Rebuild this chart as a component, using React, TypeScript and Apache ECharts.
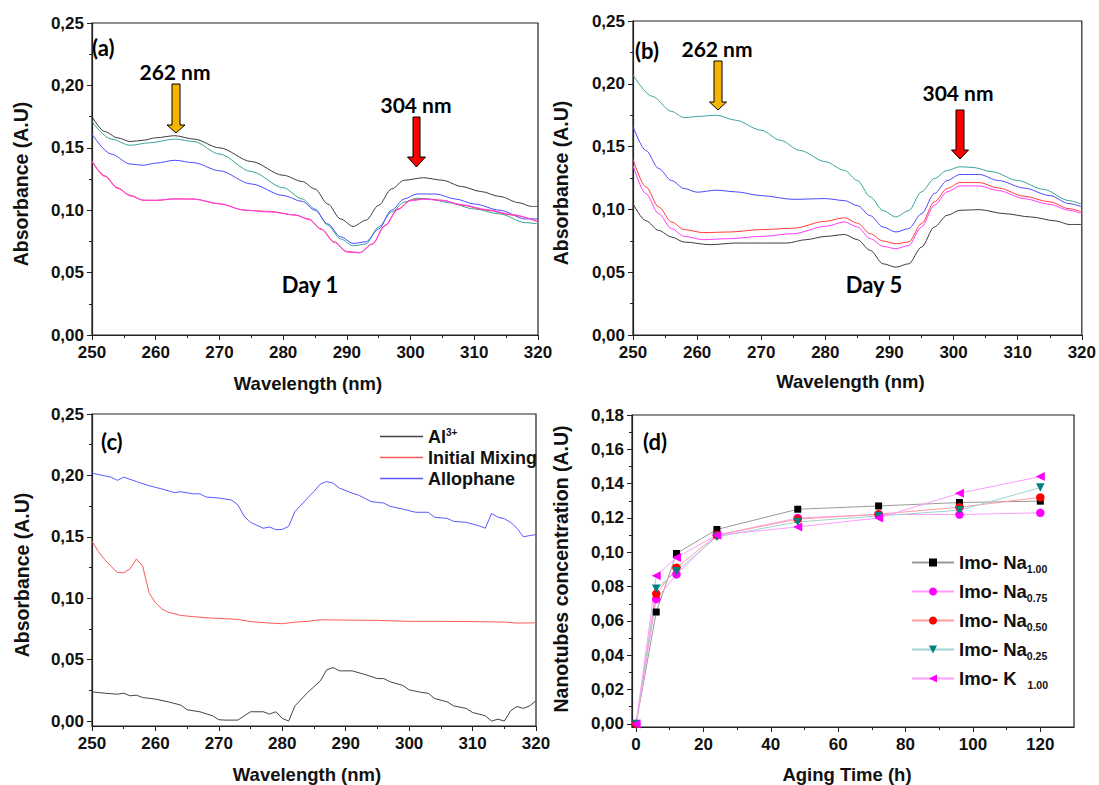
import React, { useEffect, useRef } from 'react';
import * as echarts from 'echarts';

// ---------- Panel (a) Day 1 ----------
const a_black = [[250,.175],[252,.163],[254,.158],[256,.155],[258,.156],[260,.158],[263,.1597],[266,.157],[270,.150],[275,.139],[280,.128],[283,.123],[285,.117],[287,.105],[289,.093],[291,.087],[293,.092],[295,.104],[297,.117],[299,.124],[302,.126],[305,.124],[308,.119],[311,.115],[314,.111],[317,.106],[319,.103],[320,.103]];
const a_teal = [[250,.171],[253,.157],[256,.152],[259,.154],[263,.157],[266,.155],[270,.145],[275,.131],[280,.118],[283,.109],[285,.101],[287,.088],[289,.077],[291,.0715],[293,.073],[295,.0866],[297,.0985],[299,.1065],[301,.1096],[303,.109],[306,.106],[310,.101],[314,.097],[318,.090],[320,.089]];
const a_blue = [[250,.161],[253,.145],[256,.137],[258,.136],[260,.1377],[263,.140],[266,.138],[270,.1316],[275,.121],[280,.1118],[283,.107],[285,.100],[287,.089],[289,.0787],[291,.0734],[293,.0747],[295,.085],[297,.100],[299,.109],[301,.113],[304,.113],[307,.109],[310,.105],[314,.100],[318,.093],[320,.093]];
const a_red = [[250,.1395],[252,.1276],[254,.118],[256,.112],[258,.108],[260,.1078],[263,.109],[266,.109],[270,.105],[274,.100],[278,.099],[282,.096],[284,.093],[286,.085],[288,.0747],[290,.067],[292,.066],[294,.073],[296,.088],[298,.101],[300,.108],[302,.109],[305,.108],[308,.104],[312,.100],[316,.096],[320,.091]];
const a_magenta = [[250,.139],[252,.127],[254,.1175],[256,.1115],[258,.108],[260,.108],[263,.1092],[266,.1088],[270,.1052],[274,.1],[278,.0985],[282,.0962],[284,.0925],[286,.0845],[288,.0742],[290,.0665],[292,.0658],[294,.0727],[296,.0875],[298,.1005],[300,.1075],[302,.1088],[305,.1078],[308,.1045],[312,.1005],[316,.0965],[320,.0905]];

// ---------- Panel (b) Day 5 ----------
const b_teal = [[250,.207],[253,.190],[256,.178],[258,.173],[260,.174],[263,.175],[266,.171],[270,.163],[273,.155],[276,.147],[280,.138],[283,.131],[285,.123],[287,.110],[289,.099],[291,.094],[293,.099],[295,.114],[297,.1246],[299,.131],[301,.134],[303,.1334],[306,.130],[310,.123],[314,.116],[318,.107],[320,.104]];
const b_blue = [[250,.166],[252,.147],[254,.1326],[256,.123],[258,.1166],[260,.1137],[263,.1153],[266,.114],[270,.111],[275,.108],[280,.1086],[283,.107],[285,.103],[287,.095],[289,.086],[291,.082],[293,.0847],[295,.0966],[297,.1126],[299,.123],[301,.1278],[304,.1278],[307,.123],[311,.117],[315,.111],[318,.1046],[320,.102]];
const b_red = [[250,.140],[252,.118],[254,.102],[256,.090],[258,.0839],[261,.0815],[265,.082],[270,.0839],[275,.085],[280,.0905],[283,.0934],[285,.089],[287,.0807],[289,.0748],[291,.0727],[293,.074],[295,.0887],[297,.106],[299,.1166],[301,.1214],[304,.1214],[307,.117],[311,.1105],[315,.106],[318,.1006],[320,.098]];
const b_magenta = [[250,.135],[252,.1126],[254,.0966],[256,.0847],[258,.0785],[261,.0759],[265,.0767],[270,.0785],[275,.0807],[280,.0865],[283,.090],[285,.086],[287,.0767],[289,.0706],[291,.0687],[293,.0713],[295,.086],[297,.1033],[299,.114],[301,.1187],[304,.1187],[307,.115],[311,.1086],[315,.104],[318,.0993],[320,.0966]];
const b_black = [[250,.1046],[252,.091],[254,.0833],[256,.078],[258,.074],[262,.0719],[266,.0732],[270,.0732],[274,.0732],[277,.0759],[280,.0785],[283,.080],[285,.0759],[287,.0674],[289,.0567],[291,.054],[293,.0567],[295,.070],[297,.086],[299,.0953],[301,.0993],[304,.0998],[308,.0966],[312,.094],[316,.0908],[318,.088],[320,.088]];

// ---------- Panel (c) ----------
const c_al = [[250,.0238],[252,.0227],[254,.0219],[255,.0227],[256,.0206],[257,.0211],[258,.0192],[260,.0179],[262,.0157],[264,.013],[265,.0092],[267,.0076],[269,.0043],[270,.0011],[271,.0008],[273,.0008],[274,.0043],[275,.0076],[277,.0076],[278,.0057],[279,.0076],[280,.0022],[281,.0],[282,.0124],[284,.0233],[286,.0327],[287,.0417],[288,.0436],[289,.0409],[291,.0409],[293,.038],[295,.0346],[296,.0346],[297,.032],[299,.029],[300,.0254],[302,.0233],[303,.0227],[304,.0184],[306,.0157],[307,.0124],[309,.0103],[310,.007],[311,.0057],[312,.0043],[313,.0],[314,.0016],[315,.0],[316,.0084],[317,.0119],[318,.0103],[319,.0124],[320,.0165]];
const c_mix = [[250,.1464],[251,.138],[252,.1315],[253,.126],[254,.121],[255,.1207],[256,.124],[257,.132],[258,.126],[259,.1044],[260,.0963],[261,.0914],[262,.0887],[264,.086],[266,.085],[268,.0841],[270,.0836],[273,.0828],[275,.081],[278,.0798],[280,.0793],[282,.0806],[284,.0812],[286,.0825],[290,.0822],[295,.082],[300,.0812],[305,.0812],[310,.081],[315,.0806],[317,.0798],[320,.080]];
const c_allo = [[250,.2018],[253,.1986],[254,.196],[255,.1986],[257,.195],[259,.1916],[261,.189],[263,.186],[264,.1867],[266,.185],[267,.185],[268,.1824],[270,.1816],[272,.180],[273,.176],[274,.1667],[275,.1618],[277,.157],[278,.158],[279,.1558],[280,.156],[281,.1585],[282,.1707],[284,.1816],[285,.187],[286,.193],[287,.195],[288,.1937],[289,.1897],[291,.1856],[292,.184],[294,.1788],[295,.178],[296,.1775],[297,.1748],[299,.1726],[301,.170],[303,.170],[304,.166],[306,.165],[307,.1626],[309,.1618],[311,.159],[312,.157],[313,.169],[314,.166],[315,.1648],[316,.1618],[317,.157],[318,.150],[319,.151],[320,.1518]];
const cNames = ['Al3+', 'Initial Mixing', 'Allophane'];

// ---------- Panel (d) ----------
const agingTime = [0, 6, 12, 24, 48, 72, 96, 120];
const na100 = [0, 0.0652, 0.0993, 0.1133, 0.1251, 0.127, 0.129, 0.1298];
const na075 = [0, 0.0727, 0.0871, 0.110, 0.120, 0.122, 0.122, 0.123];
const na050 = [0, 0.0758, 0.091, 0.110, 0.1193, 0.1222, 0.1263, 0.132];
const na025 = [0, 0.0787, 0.089, 0.109, 0.1177, 0.1212, 0.1245, 0.1377];
const k100 = [0, 0.0863, 0.097, 0.110, 0.1148, 0.120, 0.1344, 0.1441];
const dNames = ['Imo- Na1.00', 'Imo- Na0.75', 'Imo- Na0.50', 'Imo- Na0.25', 'Imo- K1.00'];

const absTicks = [0, 0.05, 0.1, 0.15, 0.2, 0.25];
const concTicks = [0, 0.02, 0.04, 0.06, 0.08, 0.1, 0.12, 0.14, 0.16, 0.18];
const timeTicks = [0, 20, 40, 60, 80, 100, 120];

const FONT = 'Liberation Sans, Arial, sans-serif';
const ANN = 'Lato, Open Sans, sans-serif';
const AX = '#222';

const comma = (v: number) => v.toFixed(2).replace('.', ',');
const near = (v: number, list: number[]) => list.some((t) => Math.abs(t - v) < 1e-6);

const labelStyle = { color: '#111', fontFamily: FONT, fontWeight: 'bold', fontSize: 17 };
const xNameStyle = { color: '#111', fontFamily: FONT, fontWeight: 'bold', fontSize: 18.5, padding: [0, 14, 0, 0] };
const yNameStyle = { color: '#111', fontFamily: FONT, fontWeight: 'bold', fontSize: 19.5, padding: [0, 10, 0, 0] };
const yNameStyleD = { color: '#111', fontFamily: FONT, fontWeight: 'bold', fontSize: 19.5, padding: [0, 0, 0, 4] };

function xWave(gridIndex: number, gap: number) {
  return {
    type: 'value', gridIndex, min: 250, max: 320, interval: 10,
    name: 'Wavelength (nm)', nameLocation: 'middle', nameGap: gap, nameTextStyle: xNameStyle,
    axisLine: { show: true, onZero: false, lineStyle: { color: AX, width: 1.2 } },
    axisTick: { show: true, length: 5, lineStyle: { color: AX } },
    minorTick: { show: true, splitNumber: 2, length: 3, lineStyle: { color: AX } },
    splitLine: { show: false },
    axisLabel: { ...labelStyle, margin: 9, formatter: (v: number) => String(v) },
  };
}

function yAbs(gridIndex: number, gap: number, min: number) {
  return {
    type: 'value', gridIndex, min, max: 0.25, splitNumber: 5,
    ...(min === 0 ? { interval: 0.05 } : {}),
    name: 'Absorbance (A.U)', nameLocation: 'middle', nameRotate: 90, nameGap: gap, nameTextStyle: yNameStyle,
    axisLine: { show: true, onZero: false, lineStyle: { color: AX, width: 1.2 } },
    axisTick: { show: true, length: 5, lineStyle: { color: AX }, customValues: absTicks },
    minorTick: { show: true, splitNumber: 2, length: 3, lineStyle: { color: AX } },
    splitLine: { show: false },
    axisLabel: { ...labelStyle, margin: 8, customValues: absTicks, formatter: (v: number) => (near(v, absTicks) ? comma(v) : '') },
  };
}

function spec(name: string, data: number[][], color: string, xi: number, smooth: boolean) {
  return {
    type: 'line', name, xAxisIndex: xi, yAxisIndex: xi, data, symbol: 'none', showSymbol: false,
    smooth: smooth ? 0.3 : false, smoothMonotone: 'x',
    lineStyle: { color, width: 1 }, itemStyle: { color }, silent: true,
  };
}

function dSeries(i: number, ys: number[], symbol: string, rot: number, marker: string, line: string, size: number) {
  return {
    type: 'line', name: dNames[i], xAxisIndex: 3, yAxisIndex: 3,
    data: agingTime.map((t, k) => [t, ys[k]]),
    symbol, symbolSize: size, symbolRotate: rot, showSymbol: true,
    lineStyle: { color: line, width: 1 }, itemStyle: { color: marker, borderWidth: 0 }, silent: true,
  };
}

function arrow(cx: number, top: number, headStart: number, tip: number, shaftHalf: number, headHalf: number, fill: string) {
  return {
    type: 'polygon',
    shape: { points: [[cx - shaftHalf, top], [cx + shaftHalf, top], [cx + shaftHalf, headStart], [cx + headHalf, headStart], [cx, tip], [cx - headHalf, headStart], [cx - shaftHalf, headStart]] },
    style: { fill, stroke: '#000', lineWidth: 1 },
    silent: true,
  };
}

function ann(text: string, x: number, y: number, size: number, align = 'center') {
  return {
    type: 'text', x, y, silent: true,
    style: { text, fill: '#000', fontFamily: ANN, fontWeight: 'bold', fontSize: size, align, verticalAlign: 'middle', textAlign: align, textVerticalAlign: 'middle' },
  };
}

const dLegendRich: Record<string, string> = {
  'Imo- Na1.00': '{m|Imo- Na}{s|1.00}',
  'Imo- Na0.75': '{m|Imo- Na}{s|0.75}',
  'Imo- Na0.50': '{m|Imo- Na}{s|0.50}',
  'Imo- Na0.25': '{m|Imo- Na}{s|0.25}',
  'Imo- K1.00': '{m|Imo- K}{sk|1.00}',
};

function buildOption() {
  return {
    animation: false,
    backgroundColor: '#fff',
    grid: [
      { left: 92, top: 23, width: 446, height: 312, show: true, borderColor: AX, borderWidth: 1.2, containLabel: false },
      { left: 633, top: 21, width: 449, height: 314, show: true, borderColor: AX, borderWidth: 1.2, containLabel: false },
      { left: 92, top: 414, width: 444, height: 314, show: true, borderColor: AX, borderWidth: 1.2, containLabel: false },
      { left: 632, top: 415, width: 442, height: 312, show: true, borderColor: AX, borderWidth: 1.2, containLabel: false },
    ],
    xAxis: [
      xWave(0, 39),
      xWave(1, 37),
      xWave(2, 39),
      {
        type: 'value', gridIndex: 3, min: -1.2, max: 130, splitNumber: 7,
        name: 'Aging Time (h)', nameLocation: 'middle', nameGap: 38, nameTextStyle: { ...xNameStyle, padding: [0, 12, 0, 0] },
        axisLine: { show: true, onZero: false, lineStyle: { color: AX, width: 1.2 } },
        axisTick: { show: true, length: 5, lineStyle: { color: AX }, customValues: timeTicks },
        minorTick: { show: true, splitNumber: 2, length: 3, lineStyle: { color: AX } },
        splitLine: { show: false },
        axisLabel: { ...labelStyle, margin: 9, customValues: timeTicks, formatter: (v: number) => (near(v, timeTicks) ? String(v) : '') },
      },
    ],
    yAxis: [
      yAbs(0, 61, 0),
      yAbs(1, 62, 0),
      yAbs(2, 60, -0.004),
      {
        type: 'value', gridIndex: 3, min: -0.0018, max: 0.18, splitNumber: 9,
        name: 'Nanotubes concentration (A.U)', nameLocation: 'middle', nameRotate: 90, nameGap: 61, nameTextStyle: yNameStyleD,
        axisLine: { show: true, onZero: false, lineStyle: { color: AX, width: 1.2 } },
        axisTick: { show: true, length: 5, lineStyle: { color: AX }, customValues: concTicks },
        minorTick: { show: true, splitNumber: 2, length: 3, lineStyle: { color: AX } },
        splitLine: { show: false },
        axisLabel: { ...labelStyle, margin: 8, customValues: concTicks, formatter: (v: number) => (near(v, concTicks) ? comma(v) : '') },
      },
    ],
    legend: [
      {
        data: cNames.map((n) => ({ name: n, icon: 'rect' })),
        orient: 'vertical', left: 375, top: 421, itemWidth: 43, itemHeight: 1.3, itemGap: 3,
        selectedMode: false,
        formatter: (n: string) => (n === 'Al3+' ? '{m|Al}{sup|3+}' : `{m|${n}}`),
        textStyle: {
          fontFamily: FONT, fontWeight: 'bold', fontSize: 18, color: '#111',
          rich: {
            m: { fontFamily: FONT, fontWeight: 'bold', fontSize: 18, color: '#111', lineHeight: 21 },
            sup: { fontFamily: FONT, fontWeight: 'bold', fontSize: 10, color: '#111', lineHeight: 10, verticalAlign: 'top', padding: [1, 0, 0, 0] },
          },
        },
      },
      {
        data: dNames, orient: 'vertical', left: 906, top: 548, itemWidth: 42, itemHeight: 10, itemGap: 8,
        selectedMode: false,
        formatter: (n: string) => dLegendRich[n],
        textStyle: {
          fontFamily: FONT, fontWeight: 'bold', fontSize: 18.5, color: '#111',
          rich: {
            m: { fontFamily: FONT, fontWeight: 'bold', fontSize: 18.5, color: '#111', lineHeight: 23 },
            s: { fontFamily: FONT, fontWeight: 'bold', fontSize: 10.5, color: '#111', lineHeight: 10, verticalAlign: 'bottom' },
            sk: { fontFamily: FONT, fontWeight: 'bold', fontSize: 10.5, color: '#111', lineHeight: 10, verticalAlign: 'bottom', padding: [0, 0, 0, 11] },
          },
        },
      },
    ],
    series: [
      spec('a1', a_black, '#3c3c3c', 0, true),
      spec('a2', a_teal, '#3aa39c', 0, true),
      spec('a3', a_blue, '#4a4aff', 0, true),
      spec('a4', a_red, '#ff3b3b', 0, true),
      spec('a5', a_magenta, '#ff3cff', 0, true),
      spec('b1', b_black, '#3c3c3c', 1, true),
      spec('b2', b_teal, '#3aa39c', 1, true),
      spec('b3', b_blue, '#4a4aff', 1, true),
      spec('b4', b_red, '#ff3b3b', 1, true),
      spec('b5', b_magenta, '#ff3cff', 1, true),
      spec(cNames[0], c_al, '#444444', 2, false),
      spec(cNames[1], c_mix, '#ff5a5a', 2, false),
      spec(cNames[2], c_allo, '#5a5aff', 2, false),
      dSeries(0, na100, 'rect', 0, '#000000', '#9a9a9a', 7),
      dSeries(1, na075, 'circle', 0, '#ff00ff', '#ff9cff', 8.5),
      dSeries(2, na050, 'circle', 0, '#ff0000', '#ff9c9c', 8.5),
      dSeries(3, na025, 'triangle', 180, '#008080', '#9fd3d3', 8.5),
      dSeries(4, k100, 'triangle', 90, '#ff00ff', '#ff9cff', 9),
    ],
    graphic: [
      ann('(a)', 92, 47, 22, 'left'),
      ann('262 nm', 175, 71, 21),
      ann('304 nm', 416, 104, 21),
      ann('Day 1', 310, 284, 22),
      arrow(176, 84, 125, 133, 4, 9, '#f5b400'),
      arrow(416.5, 117, 157, 167, 3.5, 9, '#ff0000'),
      ann('(b)', 635, 50, 22, 'left'),
      ann('262 nm', 717, 48, 21),
      ann('304 nm', 958, 92, 21),
      ann('Day 5', 874, 284, 22),
      arrow(718, 61, 102, 110, 4, 8.5, '#f5b400'),
      arrow(960, 110, 150, 159, 4, 8.5, '#ff0000'),
      ann('(c)', 101, 441, 22, 'left'),
      ann('(d)', 643, 441, 22, 'left'),
    ],
  };
}

export default function App() {
  const ref = useRef<HTMLDivElement>(null);
  useEffect(() => {
    document.body.style.margin = '0';
    const chart = echarts.init(ref.current as HTMLDivElement, null, { renderer: 'svg' });
    chart.setOption(buildOption() as any);
    return () => chart.dispose();
  }, []);
  return <div ref={ref} style={{ width: 1099, height: 785 }} />;
}
